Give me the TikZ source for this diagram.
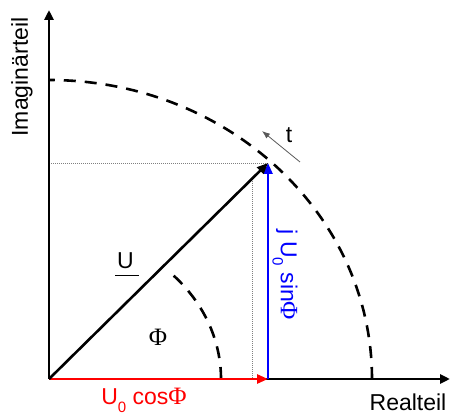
\documentclass[tikz,border=0pt]{standalone}
\usepackage{fontspec}
\setmainfont{Liberation Sans}
\newfontfamily\serifphi{Liberation Serif}
\usetikzlibrary{arrows.meta}
\newcommand{\Phis}{{\serifphi\fontsize{25}{26}\selectfont Φ}}
\newcommand{\subzero}{\raisebox{-0.35em}{\fontsize{15}{15}\selectfont 0}}
\begin{document}
\begin{tikzpicture}[x=1pt,y=1pt,
  lbl/.style={inner sep=0pt,font=\fontsize{23}{26}\selectfont},
  axis/.style={line width=2.6pt,-{Triangle[length=10pt,width=9pt]}},
  vec/.style={line width=2.6pt,-{Triangle[length=11pt,width=9pt]}},
  dsh/.style={line width=2.6pt,dash pattern=on 12pt off 9pt},
  helper/.style={gray,line width=0.6pt,dash pattern=on 1pt off 1pt}]
\useasboundingbox (0,0) rectangle (451,416);
\coordinate (O) at (49,37);
\coordinate (YT) at (49,406);
\coordinate (XT) at (450,37);
\coordinate (P) at (268,253);
\coordinate (F) at (268,37);
\coordinate (H) at (49,253);
\coordinate (VU) at (252,237);
\coordinate (VB) at (252,37);
\coordinate (TA) at (300,254);
\coordinate (TB) at (262,285);
\coordinate (UL1) at (115,141);
\coordinate (UL2) at (139,141);
% helper lines
\draw[helper] (H) -- (P);
\draw[helper] (VU) -- (VB);
% dashed arcs
\draw[dsh] (372,37) arc[start angle=0,end angle=90,x radius=323,y radius=299];
\draw[dsh] (221,37) arc[start angle=0,end angle=45,x radius=172,y radius=150];
% axes
\draw[axis] (O) -- (XT);
\draw[axis] (O) -- (YT);
% vectors
\draw[vec,red] (O) -- (F);
\draw[vec,blue] (F) -- (P);
\draw[vec] (O) -- (P);
% t arrow
\draw[line width=0.8pt,black!65,-{Latex[length=8pt,width=6pt]}] (TA) -- (TB);
% labels
\node[lbl,rotate=90] (im) at (22,339) {Imaginärteil};
\node[lbl] (re) at (408,14) {Realteil};
\node[lbl,red] (cos) at (144,16) {U\subzero\ cos\Phis};
\node[lbl,blue,rotate=-90] (sin) at (285,141) {j U\subzero\ sin\Phis};
\node[lbl] (t) at (289,281) {t};
\node[lbl] (U) at (125.5,155.5) {U};
\draw[line width=0.8pt] (UL1) -- (UL2);
\node[lbl] (phi) at (158,79) {\Phis};
\end{tikzpicture}
\end{document}
